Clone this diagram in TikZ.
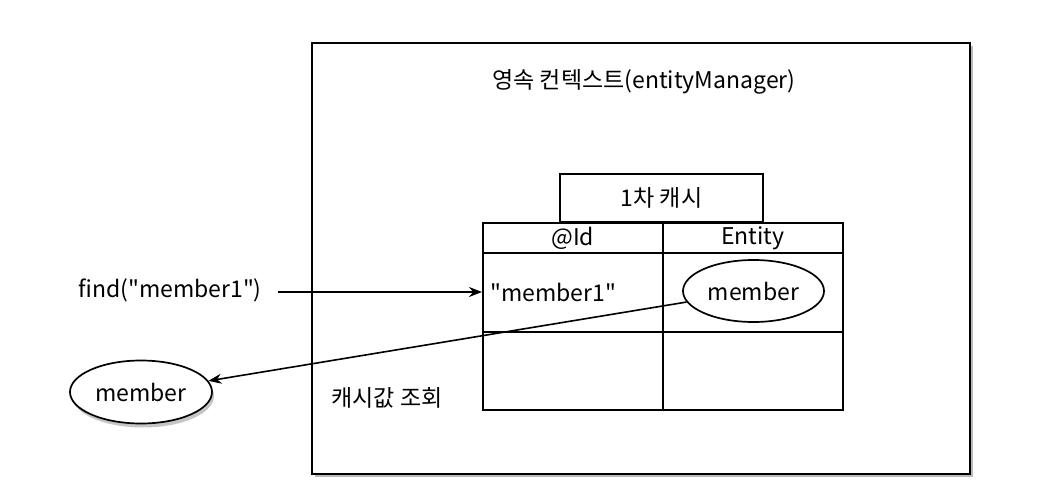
\documentclass[tikz,border=0pt]{standalone}
\usepackage{fontspec}
\setmainfont{Noto Sans CJK KR}[Ligatures=TeXOff]
\usetikzlibrary{arrows.meta,shadows,shapes.geometric}
\begin{document}
\begin{tikzpicture}[x=1pt,y=-1pt,
  font=\fontsize{23}{27}\selectfont,
  line width=1.7pt,
  arr/.style={-{Stealth[length=13pt,width=10pt]},line width=1.6pt},
  cell/.style={draw,rectangle,inner sep=0pt,anchor=north west},
  oval/.style={draw,ellipse,inner sep=0pt,fill=white},
  txt/.style={inner sep=0pt}
]
\useasboundingbox (0,0) rectangle (1048,500);
\node[draw,rectangle,inner sep=0pt,minimum width=658pt,minimum height=431pt,fill=white,
      drop shadow={shadow xshift=3pt,shadow yshift=-3pt,fill=black!55}]
      (ctx) at (641,258.5) {};
\node[txt] (title) at (644,82) {영속 컨텍스트(entityManager)};
\node[draw,rectangle,inner sep=0pt,minimum width=203pt,minimum height=48pt] (cache) at (661.5,198) {1차 캐시};
\node[cell,minimum width=180pt,minimum height=30pt] (idh) at (482,222) {};
\node[cell,minimum width=180pt,minimum height=30pt] (enth) at (662,222) {};
\node[cell,minimum width=180pt,minimum height=79pt] (idcell) at (482,252) {};
\node[cell,minimum width=180pt,minimum height=79pt] (entcell) at (662,252) {};
\node[cell,minimum width=180pt,minimum height=78pt] (e1) at (482,331) {};
\node[cell,minimum width=180pt,minimum height=78pt] (e2) at (662,331) {};
\node[txt] (idl) at (idh.center) {@Id};
\node[txt] (entl) at (enth.center) {Entity};
\node[txt] (key) at (553,292) {"member1"};
\node[oval,minimum width=141pt,minimum height=62pt] (mem) at (753.5,291) {member};
\node[txt] (find) at (170,290) {find("member1")};
\node[oval,minimum width=142pt,minimum height=63pt,
      drop shadow={shadow xshift=2pt,shadow yshift=-4pt,fill=black!45}] (res) at (141,392) {member};
\node[txt] (query) at (387,398) {캐시값 조회};
\coordinate (fs) at (278,292);
\draw[arr] (fs) -- (idcell.west |- fs);
\draw[arr] (mem) -- (res);
\end{tikzpicture}
\end{document}
